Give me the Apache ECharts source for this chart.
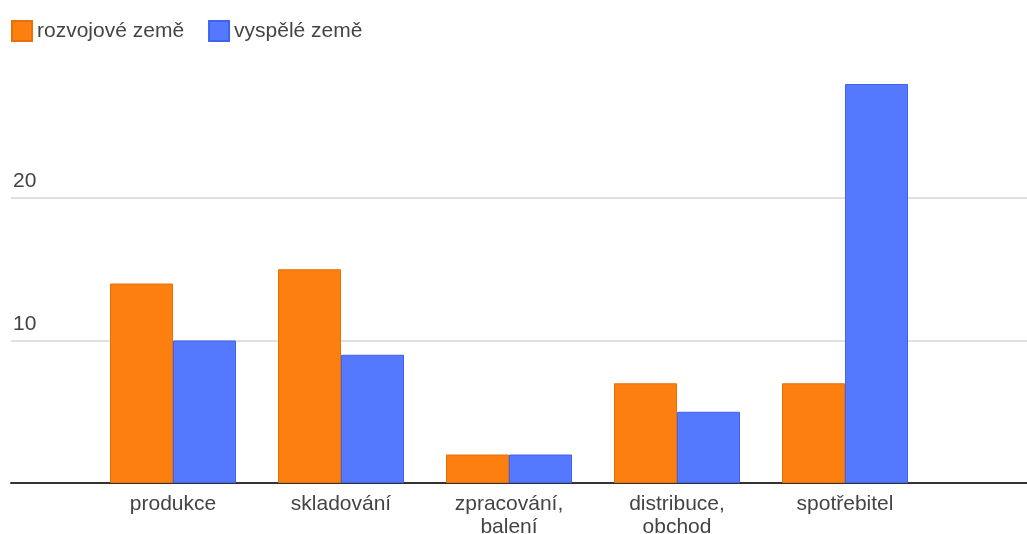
<!doctype html>
<html>
<head>
    <meta charset="utf-8">
    <title>rozvojové vs. vyspělé země</title>
    <script type="text/javascript" src="https://cdn.jsdelivr.net/npm/echarts@6/dist/echarts.min.js"></script>
    <style>
        html, body{
            margin: 0;padding: 0;
            background-color: #fff;
        }
        #chartBox{
            width: 1027px;
            height: 534px;
        }
    </style>
</head>
<body>
    <div id="chartBox"></div>
<script type="text/javascript">
    //数据
    var categories = ["produkce", "skladování", "zpracování,\nbalení", "distribuce,\nobchod", "spotřebitel"];
    var seriesNames = ["rozvojové země", "vyspělé země"];
    var developing = [14, 15, 2, 7, 7];
    var developed = [10, 9, 2, 5, 28];
    var yMin = 0, yMax = 30, yStep = 10;

    var fontFamily = '"Liberation Sans", Arial, sans-serif';

    function chartInit(){
        var myChart = echarts.init(document.getElementById("chartBox"));
        var option = {
            animation: false,
            textStyle: { fontFamily: fontFamily },
            legend: {
                left: 6,
                top: 15,
                itemWidth: 20,
                itemHeight: 20,
                itemGap: 24,
                icon: 'rect',
                textStyle: { fontSize: 21, color: '#444', fontFamily: fontFamily },
                data: seriesNames
            },
            //grid 0 放柱子，grid 1 画网格线和刻度
            grid: [
                { left: 89, right: 98, top: 55.5, bottom: 51, outerBoundsMode: 'none' },
                { left: 11, right: 0, top: 55.5, bottom: 51, outerBoundsMode: 'none' }
            ],
            xAxis: [{
                gridIndex: 0,
                type: 'category',
                data: categories,
                axisLine: { show: false },
                axisTick: { show: false },
                axisLabel: {
                    margin: 10,
                    fontSize: 21,
                    lineHeight: 23,
                    color: '#444',
                    fontFamily: fontFamily,
                    interval: 0
                }
            }, {
                gridIndex: 1,
                type: 'value',
                min: 0,
                max: 1,
                axisLine: { show: true, lineStyle: { color: '#333', width: 2 } },
                axisTick: { show: false },
                axisLabel: { show: false },
                splitLine: { show: false }
            }],
            yAxis: [{
                gridIndex: 0,
                type: 'value',
                min: yMin,
                max: yMax,
                interval: yStep,
                show: false,
                splitLine: { show: false }
            }, {
                gridIndex: 1,
                type: 'value',
                min: yMin,
                max: yMax,
                interval: yStep,
                axisLine: { show: false },
                axisTick: { show: false },
                axisLabel: {
                    inside: true,
                    margin: 2,
                    verticalAlign: 'bottom',
                    padding: [0, 0, 6, 0],
                    fontSize: 21,
                    color: '#444',
                    fontFamily: fontFamily,
                    showMinLabel: false,
                    showMaxLabel: false
                },
                splitLine: {
                    show: true,
                    showMinLine: false,
                    showMaxLine: false,
                    lineStyle: { color: '#e0e0e0', width: 2 }
                }
            }],
            series: [{
                name: seriesNames[0],
                type: 'bar',
                xAxisIndex: 0,
                yAxisIndex: 0,
                data: developing,
                barGap: '0%',
                barCategoryGap: '25%',
                itemStyle: { color: '#fd7f0f', borderColor: '#e8700a', borderWidth: 1 }
            }, {
                name: seriesNames[1],
                type: 'bar',
                xAxisIndex: 0,
                yAxisIndex: 0,
                data: developed,
                barGap: '0%',
                barCategoryGap: '25%',
                itemStyle: { color: '#5479ff', borderColor: '#3f63ec', borderWidth: 1 }
            }]
        };
        myChart.setOption(option);
    }
    chartInit();
</script>
</body>
</html>
